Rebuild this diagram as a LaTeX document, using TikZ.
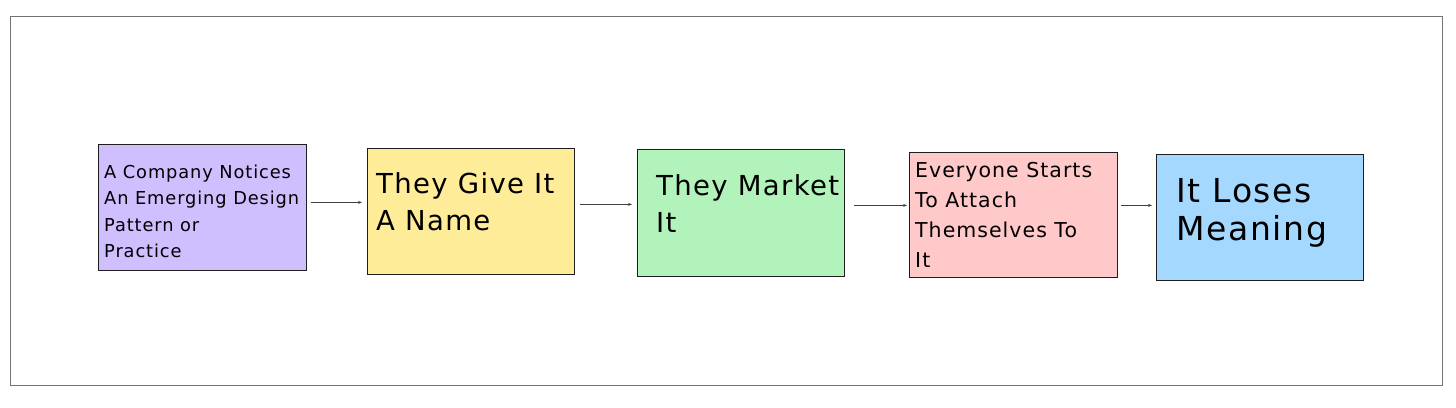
\documentclass[tikz,border=0pt]{standalone}
\usepackage{fontspec}
\usetikzlibrary{arrows.meta}
\newfontfamily\hand[LetterSpace=5]{DejaVu Sans}
\definecolor{cpurple}{HTML}{D0BFFF}
\definecolor{cyellow}{HTML}{FFEC99}
\definecolor{cgreen}{HTML}{B2F2BB}
\definecolor{cpink}{HTML}{FFC9C9}
\definecolor{cblue}{HTML}{A5D8FF}
\definecolor{edge}{HTML}{1E1E1E}
\tikzset{
  stepbox/.style={draw=edge, line width=0.8pt, inner sep=0pt, anchor=north west},
  smalltxt/.style={anchor=base west, align=left, inner sep=0pt, font=\hand\fontsize{17.8}{26.5}\selectfont},
  midtxt/.style={anchor=base west, align=left, inner sep=0pt, font=\hand\fontsize{20.5}{30}\selectfont},
  bigtxt/.style={anchor=base west, align=left, inner sep=0pt, font=\hand\fontsize{27.5}{37}\selectfont},
  hugetxt/.style={anchor=base west, align=left, inner sep=0pt, font=\hand\fontsize{33}{38.5}\selectfont},
  arr/.style={draw=edge!85, line width=0.6pt, -{Stealth[length=4pt,width=3pt]}}
}
\begin{document}
\begin{tikzpicture}[x=1pt,y=-1pt]
\useasboundingbox[fill=white] (0,0) rectangle (1456,407);
\node[draw=gray!90!black, line width=1.3pt, minimum width=1432pt, minimum height=369pt, inner sep=0pt, anchor=north west] (frame) at (10,16) {};
\node[stepbox, fill=cpurple, minimum width=208pt, minimum height=126pt] (b1) at (98,144) {};
\node[stepbox, fill=cyellow, minimum width=207pt, minimum height=126pt] (b2) at (367,148) {};
\node[stepbox, fill=cgreen, minimum width=207pt, minimum height=127pt] (b3) at (637,149) {};
\node[stepbox, fill=cpink, minimum width=208pt, minimum height=125pt] (b4) at (909,152) {};
\node[stepbox, fill=cblue, minimum width=207pt, minimum height=126pt] (b5) at (1156,154) {};
\node[smalltxt] (t1) at (104,257.5) {A Company Notices\\An Emerging Design\\Pattern or\\Practice};
\node[bigtxt] (t2) at (376,230) {They Give It\\A Name};
\node[bigtxt] (t3) at (656,232) {They Market\\It};
\node[midtxt] (t4) at (915,267) {Everyone Starts\\To Attach\\Themselves To\\It};
\node[hugetxt] (t5) at (1176,240.5) {It Loses\\Meaning};
\draw[arr] ([shift={(4,-5)}]b1.east) -- ([shift={(-5,-9)}]b2.west);
\draw[arr] ([shift={(5,-7)}]b2.east) -- ([shift={(-5,-8.5)}]b3.west);
\draw[arr] ([shift={(9,-7.5)}]b3.east) -- ([shift={(-2,-9.5)}]b4.west);
\draw[arr] ([shift={(3,-9.5)}]b4.east) -- ([shift={(-4,-12)}]b5.west);
\end{tikzpicture}
\end{document}
